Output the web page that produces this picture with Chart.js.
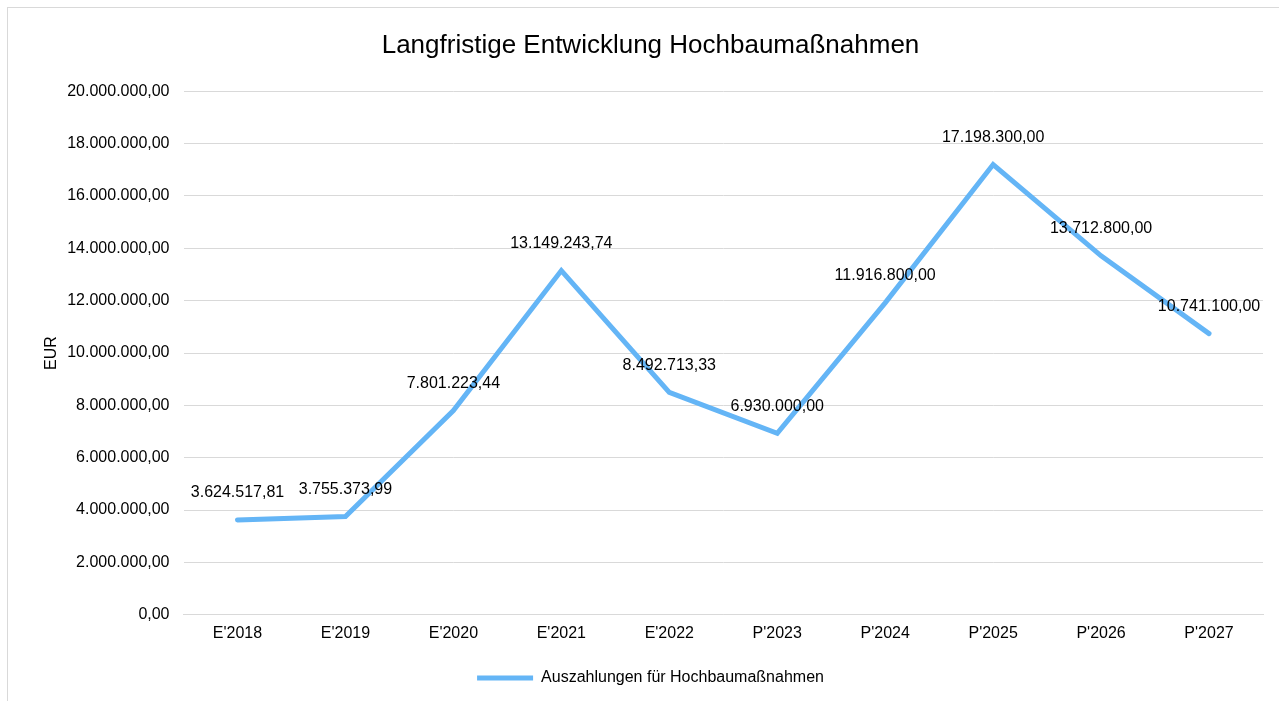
<!DOCTYPE html>
<html lang="de">
<head>
<meta charset="utf-8">
<title>Langfristige Entwicklung Hochbaumaßnahmen</title>
<script src="https://cdn.jsdelivr.net/npm/chart.js@4/dist/chart.umd.min.js"></script>
<style>
  html, body { margin: 0; padding: 0; background: #fff; overflow: hidden; }
  #box {
    position: absolute; left: 7px; top: 7px;
    width: 1276px; height: 702px;
    border: 1px solid #d9d9d9; box-sizing: border-box;
  }
</style>
</head>
<body>
<div id="box"><canvas id="chart"></canvas></div>
<script>
// data
const years = ["E'2018", "E'2019", "E'2020", "E'2021", "E'2022", "P'2023", "P'2024", "P'2025", "P'2026", "P'2027"];
const payouts = [3624517.81, 3755373.99, 7801223.44, 13149243.74, 8492713.33, 6930000.00, 11916800.00, 17198300.00, 13712800.00, 10741100.00];
const yTicks = [0, 2000000, 4000000, 6000000, 8000000, 10000000, 12000000, 14000000, 16000000, 18000000, 20000000];

const FONT = "'Liberation Sans', Arial, sans-serif";
const LINE_COLOR = "#64b5f6";

// German number format: 1.234.567,89
function fmt(v) {
  const parts = Number(v).toFixed(2).split(".");
  parts[0] = parts[0].replace(/\B(?=(\d{3})+(?!\d))/g, ".");
  return parts[0] + "," + parts[1];
}

// draws value labels above each point of the line
const valueLabels = {
  id: "valueLabels",
  afterDatasetsDraw(chart) {
    const ctx = chart.ctx;
    const meta = chart.getDatasetMeta(0);
    ctx.save();
    ctx.font = "16px " + FONT;
    ctx.fillStyle = "#000";
    ctx.textAlign = "center";
    ctx.textBaseline = "middle";
    meta.data.forEach((pt, i) => {
      ctx.fillText(fmt(payouts[i]), pt.x, pt.y - 27);
    });
    ctx.restore();
  }
};

const ctx = document.getElementById("chart").getContext("2d");
new Chart(ctx, {
  type: "line",
  data: {
    labels: years,
    datasets: [{
      label: "Auszahlungen für Hochbaumaßnahmen",
      data: payouts,
      borderColor: LINE_COLOR,
      backgroundColor: LINE_COLOR,
      borderWidth: 5,
      borderCapStyle: "round",
      borderJoinStyle: "miter",
      tension: 0,
      pointRadius: 0,
      pointHoverRadius: 0,
      fill: false
    }]
  },
  options: {
    responsive: true,
    maintainAspectRatio: false,
    animation: false,
    layout: { padding: { left: 30, right: 19, top: 0, bottom: 12 } },
    scales: {
      x: {
        offset: true,
        grid: { display: false, drawTicks: false },
        border: { display: true, color: "#d9d9d9", width: 1 },
        ticks: { color: "#000", font: { family: FONT, size: 16 }, padding: 9, maxRotation: 0 }
      },
      y: {
        min: 0,
        max: 20000000,
        afterBuildTicks: (axis) => { axis.ticks = yTicks.map(v => ({ value: v })); },
        afterFit: (axis) => { axis.width -= 12; },
        grid: { color: "#d9d9d9", lineWidth: 1, drawTicks: false },
        border: { display: false },
        ticks: {
          color: "#000",
          font: { family: FONT, size: 16 },
          padding: 14,
          callback: (v) => fmt(v)
        },
        title: {
          display: true,
          text: "EUR",
          color: "#000",
          font: { family: FONT, size: 16 },
          padding: { top: 4, bottom: 4 }
        }
      }
    },
    plugins: {
      title: {
        display: true,
        text: "Langfristige Entwicklung Hochbaumaßnahmen",
        color: "#000",
        font: { family: FONT, size: 26, weight: "normal" },
        padding: { top: 22, bottom: 30 }
      },
      legend: {
        position: "bottom",
        labels: {
          color: "#000",
          font: { family: FONT, size: 16 },
          usePointStyle: true,
          pointStyle: "line",
          pointStyleWidth: 56,
          padding: 18
        }
      },
      tooltip: { enabled: false }
    }
  },
  plugins: [valueLabels]
});
</script>
</body>
</html>
